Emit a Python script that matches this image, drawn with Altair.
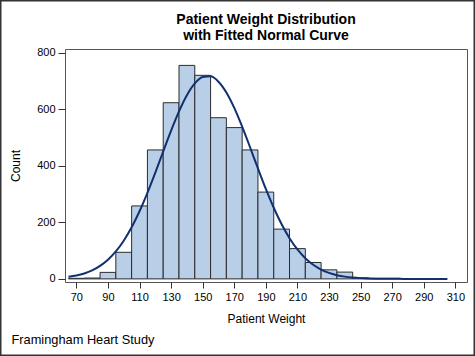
import altair as alt
import pandas as pd

# Histogram bins (centers) and counts
bin_centers = [70, 80, 90, 100, 110, 120, 130, 140, 150, 160, 170, 180, 190,
               200, 210, 220, 230, 240, 250, 260, 270, 280]
bin_counts = [2, 3, 23, 94, 258, 456, 623, 755, 720, 570, 535, 456, 307,
              176, 107, 58, 32, 24, 4, 2, 2, 1]
bin_width = 10

# Fitted normal curve
curve_x = [65, 70, 75, 80, 85, 90, 95, 100, 105, 110, 115, 120, 125, 130, 135,
           140, 145, 150, 155, 160, 165, 170, 175, 180, 185, 190, 195, 200, 205,
           210, 215, 220, 225, 230, 235, 240, 245, 250, 255, 260, 265, 270, 275,
           280, 285, 290, 295, 300, 305]
curve_y = [7.2, 11.9, 19.3, 30.2, 46.0, 67.8, 97.2, 135.1, 182.4, 239.2, 304.3,
           375.8, 450.6, 524.2, 592.2, 649.4, 691.2, 714.2, 716.3, 697.4, 659.1,
           604.6, 538.4, 465.5, 390.6, 318.1, 251.6, 193.1, 143.9, 104.0, 73.0,
           49.8, 32.9, 21.1, 13.2, 8.0, 4.7, 2.7, 1.5, 0.8, 0.4, 0.2, 0.1, 0.0,
           0.0, 0.0, 0.0, 0.0, 0.0]

x_ticks = [70, 90, 110, 130, 150, 170, 190, 210, 230, 250, 270, 290, 310]
y_ticks = [0, 200, 400, 600, 800]

title_lines = ["Patient Weight Distribution", "with Fitted Normal Curve"]
footnote_text = "Framingham Heart Study"

FONT = "Liberation Sans"
W, H = 402, 233
PAD = {"left": 65, "top": 49, "right": 8, "bottom": 74}

hist_df = pd.DataFrame({"center": bin_centers, "count": bin_counts})
curve_df = pd.DataFrame({"x": curve_x, "y": curve_y})

xscale = alt.Scale(domain=[62.8, 317.4], nice=False, zero=False)
yscale = alt.Scale(domain=[-11, 813], nice=False, zero=False)

bars = alt.Chart(hist_df).transform_calculate(
    x0=f"datum.center - {bin_width}/2",
    x1=f"datum.center + {bin_width}/2",
).mark_rect(fill="#B9CFE8", stroke="#2b2b2b", strokeWidth=1).encode(
    x=alt.X("x0:Q", scale=xscale,
            axis=alt.Axis(values=x_ticks, tickCount=len(x_ticks),
                          title="Patient Weight", grid=False,
                          domain=False, tickSize=6, tickColor="#333333",
                          labelFontSize=11, labelFont=FONT, labelColor="#000000",
                          labelPadding=3, titleFont=FONT, titleFontSize=12,
                          titleFontWeight="normal", titleColor="#000000",
                          titlePadding=11, labelFlush=False, labelOverlap=False)),
    x2="x1:Q",
    y=alt.Y("count:Q", scale=yscale,
            axis=alt.Axis(values=y_ticks, tickCount=len(y_ticks),
                          title="Count", grid=False,
                          domain=False, tickSize=7, tickColor="#333333",
                          labelFontSize=11, labelFont=FONT, labelColor="#000000",
                          labelPadding=3, titleFont=FONT, titleFontSize=12,
                          titleFontWeight="normal", titleColor="#000000",
                          titlePadding=14, labelFlush=False, labelOverlap=False)),
    y2=alt.datum(0),
)

curve = alt.Chart(curve_df).mark_line(
    color="#10306F", strokeWidth=2, interpolate="monotone"
).encode(
    x=alt.X("x:Q", scale=xscale),
    y=alt.Y("y:Q", scale=yscale),
)

def text_layer(txt, x, y, size, weight="normal", align="left"):
    return alt.Chart(alt.Data(values=[{"t": txt}])).mark_text(
        align=align, baseline="alphabetic", font=FONT, fontSize=size,
        fontWeight=weight, color="#000000"
    ).encode(
        x=alt.value(x - PAD["left"]),
        y=alt.value(y - PAD["top"]),
        text="t:N",
    )

title1 = text_layer(title_lines[0], 266, 23.5, 14, "bold", "center")
title2 = text_layer(title_lines[1], 266, 39.5, 14, "bold", "center")
footnote = text_layer(footnote_text, 11.5, 344, 12.8)

border = alt.Chart(alt.Data(values=[{}])).mark_rect(
    fill=None, stroke="#333333", strokeWidth=1.5
).encode(
    x=alt.value(0.75 - PAD["left"]),
    x2=alt.value(475 - 0.75 - PAD["left"]),
    y=alt.value(0.75 - PAD["top"]),
    y2=alt.value(356 - 0.75 - PAD["top"]),
)

chart = alt.layer(bars, curve, title1, title2, footnote, border).properties(
    width=W, height=H,
    autosize=alt.AutoSizeParams(type="none"),
    padding=PAD,
    background="white",
).configure_view(stroke="#555555", strokeWidth=1)

chart.save("out.html", embed_options={"renderer": "svg", "actions": False})
